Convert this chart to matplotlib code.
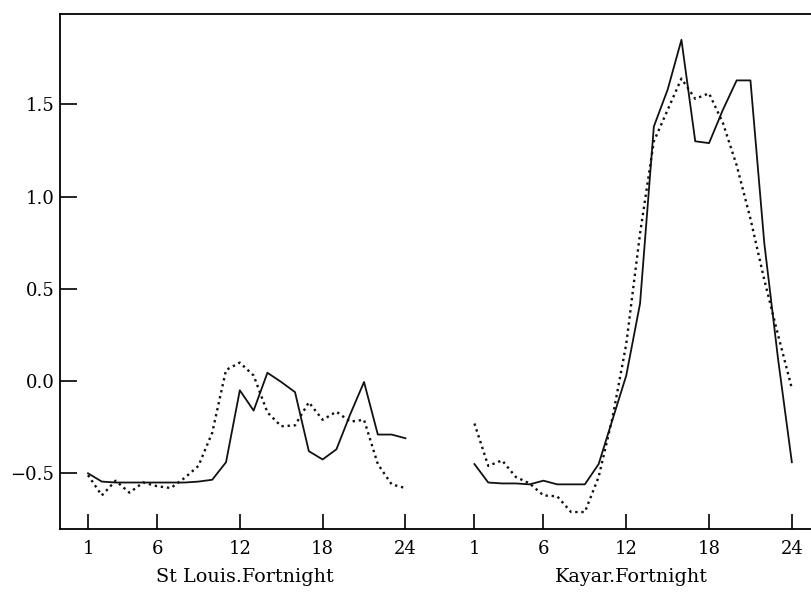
import numpy as np
import matplotlib.pyplot as plt

# fortnight index, 1..24 for each site
fortnight = np.arange(1, 25)

# St Louis: observed (solid) and fitted (dotted)
stlouis_obs = [-0.50, -0.545, -0.55, -0.55, -0.55, -0.55, -0.55, -0.55, -0.545, -0.535,
               -0.44, -0.05, -0.16, 0.045, -0.005, -0.06, -0.38, -0.425, -0.37, -0.18,
               -0.005, -0.29, -0.29, -0.31]
stlouis_fit = [-0.51, -0.62, -0.54, -0.605, -0.55, -0.57, -0.58, -0.525, -0.46, -0.28,
               0.06, 0.10, 0.03, -0.17, -0.245, -0.24, -0.115, -0.21, -0.166, -0.22,
               -0.21, -0.45, -0.56, -0.58]

# Kayar: observed (solid) and fitted (dotted)
kayar_obs = [-0.45, -0.55, -0.555, -0.555, -0.56, -0.54, -0.56, -0.56, -0.56, -0.45,
             -0.21, 0.03, 0.42, 1.38, 1.58, 1.85, 1.30, 1.29, 1.47, 1.63,
             1.63, 0.75, 0.12, -0.44]
kayar_fit = [-0.23, -0.46, -0.43, -0.52, -0.555, -0.62, -0.625, -0.71, -0.71, -0.52,
             -0.20, 0.20, 0.80, 1.30, 1.47, 1.64, 1.53, 1.56, 1.40, 1.17,
             0.88, 0.55, 0.25, -0.04]

xticks = [1, 6, 12, 18, 24]
yticks = [-0.5, 0.0, 0.5, 1.0, 1.5]
ytick_labels = ['\u22120.5', '0.0', '0.5', '1.0', '1.5']
panel_names = ['St Louis.Fortnight', 'Kayar.Fortnight']
offset = 28  # second panel starts after a gap on the shared axis

plt.rcParams['font.family'] = ['DejaVu Serif']

fig = plt.figure(figsize=(8.12, 5.92), dpi=100)
ax = fig.add_axes([60 / 812, 1 - 529 / 592, 1 - 60 / 812, (529 - 14) / 592])

dots = (0, (1, 1.6))
for off, obs, fit in [(0, stlouis_obs, stlouis_fit), (offset, kayar_obs, kayar_fit)]:
    ax.plot(fortnight + off, obs, color='#111111', lw=1.3)
    ax.plot(fortnight + off, fit, color='#111111', lw=1.7, linestyle=dots)

ax.set_xlim(-1.03, 53.46)
ax.set_ylim(-0.802, 1.99)

ax.set_xticks(xticks + [t + offset for t in xticks])
ax.set_xticklabels([str(t) for t in xticks] * 2)
ax.set_yticks(yticks)
ax.set_yticklabels(ytick_labels)
ax.tick_params(axis='x', direction='in', length=11, width=1.2, pad=8, labelsize=13)
ax.tick_params(axis='y', direction='in', length=12, width=1.2, pad=4, labelsize=13)
ax.spines['right'].set_visible(False)
for s in ['left', 'bottom', 'top']:
    ax.spines[s].set_linewidth(1.3)

# panel labels under each group of ticks
trans = ax.get_xaxis_transform()
for off, name in zip([0, offset], panel_names):
    ax.text(12.4 + off, -0.093, name, transform=trans, ha='center', va='center', fontsize=13.8)

fig.savefig('out.png', dpi=100)
